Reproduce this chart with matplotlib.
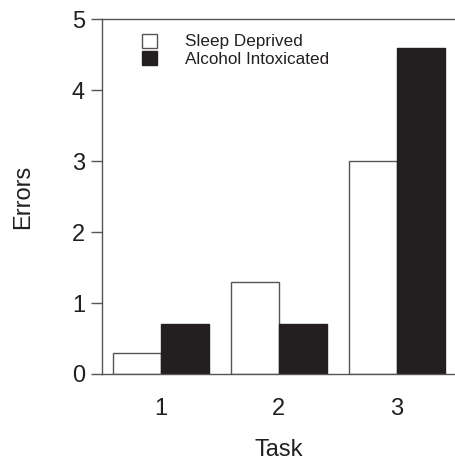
import matplotlib.pyplot as plt
import numpy as np

plt.rcParams["font.family"] = ["Liberation Sans", "DejaVu Sans"]
plt.rcParams["text.color"] = "#231f20"
plt.rcParams["axes.labelcolor"] = "#231f20"
plt.rcParams["xtick.labelcolor"] = "#231f20"
plt.rcParams["ytick.labelcolor"] = "#231f20"

# Daten
tasks = [1, 2, 3]
sleep_deprived = [0.3, 1.3, 3.0]
alcohol = [0.7, 0.7, 4.6]
labels = ["Sleep Deprived", "Alcohol Intoxicated"]

fig = plt.figure(figsize=(4.56, 4.62), dpi=100)
ax = fig.add_axes([0.223, 0.1905, 0.777, 0.7675])

x = np.array(tasks)
w = 0.405
edge = "#555555"
ax.bar(x - w / 2, sleep_deprived, w, color="white", edgecolor=edge,
       linewidth=1.0, label=labels[0])
ax.bar(x + w / 2, alcohol, w, color="#231f20", edgecolor="#231f20",
       linewidth=1.0, label=labels[1])

ax.set_xlim(0.5, 3.5)
ax.set_ylim(0, 5)
ax.set_xticks(tasks)
ax.set_yticks(range(6))
ax.tick_params(axis="both", labelsize=17, color=edge, direction="out")
ax.tick_params(axis="x", length=0, pad=17)
ax.tick_params(axis="y", length=8, width=1.0, pad=4)

for s in ["left", "top", "bottom"]:
    ax.spines[s].set_color(edge)
    ax.spines[s].set_linewidth(1.0)
ax.spines["right"].set_visible(False)

ax.set_xlabel("Task", fontsize=17, labelpad=14)
ax.set_ylabel("Errors", fontsize=17, labelpad=27)

leg = ax.legend(loc="upper left", bbox_to_anchor=(0.114, 0.96), frameon=False,
                fontsize=12.3, handlelength=0.88, handleheight=0.88,
                handletextpad=1.64, labelspacing=0.1, borderpad=0,
                borderaxespad=0)

plt.savefig("out.png", dpi=100)
